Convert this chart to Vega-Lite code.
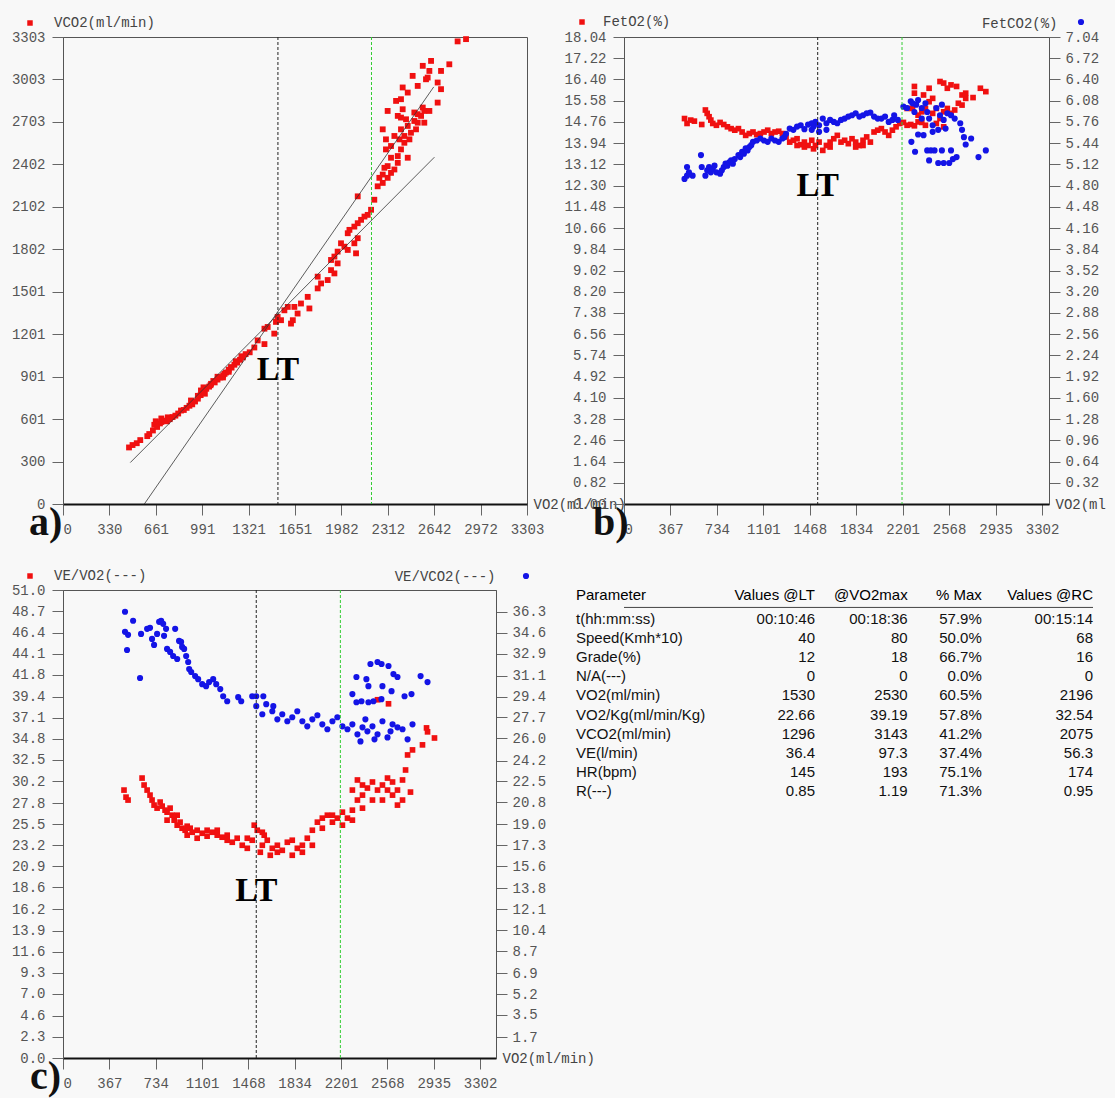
{
"$schema": "https://vega.github.io/schema/vega-lite/v6.json",
"background": "#f8f8f8",
"padding": {"left": 10, "top": 14, "right": 0, "bottom": 0},
"columns": 2,
"align": "none",
"bounds": "flush",
"spacing": {"row": 86, "column": 97},
"datasets": {
"thr": [{"kind": "LT", "vo2": 1530}, {"kind": "RC", "vo2": 2196}],
"afit": [{"line": "s", "vo2": 479, "val": 293}, {"line": "s", "vo2": 2644, "val": 2453}, {"line": "t", "vo2": 579, "val": 0}, {"line": "t", "vo2": 2639, "val": 2950}],
"a": [
{"vo2":470,"val":400},{"vo2":495,"val":417},{"vo2":525,"val":430},{"vo2":550,"val":452},{"vo2":600,"val":480},{"vo2":614,"val":495},{"vo2":640,"val":520},{"vo2":650,"val":560},{"vo2":660,"val":585},{"vo2":670,"val":545},{"vo2":690,"val":570},{"vo2":700,"val":580},{"vo2":700,"val":605},{"vo2":720,"val":590},{"vo2":746,"val":613},{"vo2":740,"val":585},{"vo2":760,"val":600},{"vo2":780,"val":615},{"vo2":800,"val":625},{"vo2":820,"val":640},{"vo2":840,"val":661},{"vo2":860,"val":665},{"vo2":880,"val":680},{"vo2":900,"val":695},{"vo2":911,"val":732},{"vo2":920,"val":705},{"vo2":940,"val":725},{"vo2":960,"val":745},{"vo2":960,"val":765},{"vo2":982,"val":803},{"vo2":980,"val":770},{"vo2":990,"val":790},{"vo2":1000,"val":800},{"vo2":1000,"val":825},{"vo2":1010,"val":780},{"vo2":1020,"val":815},{"vo2":1040,"val":830},{"vo2":1054,"val":850},{"vo2":1050,"val":840},{"vo2":1070,"val":870},{"vo2":1080,"val":860},{"vo2":1100,"val":880},{"vo2":1100,"val":900},{"vo2":1120,"val":895},{"vo2":1139,"val":895},{"vo2":1140,"val":910},{"vo2":1150,"val":920},{"vo2":1160,"val":930},{"vo2":1180,"val":935},{"vo2":1180,"val":950},{"vo2":1196,"val":968},{"vo2":1200,"val":965},{"vo2":1220,"val":985},{"vo2":1230,"val":1010},{"vo2":1240,"val":1000},{"vo2":1260,"val":1020},{"vo2":1270,"val":1045},{"vo2":1281,"val":1037},{"vo2":1300,"val":1060},{"vo2":1329,"val":1073},
{"vo2":1362,"val":1107},{"vo2":1386,"val":1157},{"vo2":1434,"val":1131},{"vo2":1434,"val":1240},{"vo2":1457,"val":1252},{"vo2":1504,"val":1205},{"vo2":1516,"val":1288},{"vo2":1528,"val":1323},{"vo2":1552,"val":1300},{"vo2":1576,"val":1370},{"vo2":1600,"val":1394},{"vo2":1623,"val":1276},{"vo2":1636,"val":1300},{"vo2":1647,"val":1394},{"vo2":1670,"val":1347},{"vo2":1694,"val":1418},{"vo2":1742,"val":1465},{"vo2":1754,"val":1383},
{"vo2":1813,"val":1525},{"vo2":1813,"val":1608},{"vo2":1837,"val":1560},{"vo2":1884,"val":1584},{"vo2":1908,"val":1654},{"vo2":1908,"val":1726},{"vo2":1932,"val":1631},{"vo2":1932,"val":1750},{"vo2":1955,"val":1702},{"vo2":1955,"val":1785},{"vo2":1979,"val":1844},{"vo2":2003,"val":1820},{"vo2":2027,"val":1797},{"vo2":2027,"val":1915},{"vo2":2039,"val":1939},{"vo2":2074,"val":1844},{"vo2":2074,"val":1962},{"vo2":2086,"val":1773},{"vo2":2098,"val":1880},{"vo2":2098,"val":1986},{"vo2":2098,"val":2176},{"vo2":2122,"val":2010},{"vo2":2146,"val":2033},{"vo2":2169,"val":2045},
{"vo2":2193,"val":2081},{"vo2":2216,"val":2152},{"vo2":2240,"val":2247},{"vo2":2252,"val":2307},{"vo2":2276,"val":2271},{"vo2":2276,"val":2330},{"vo2":2276,"val":2650},{"vo2":2288,"val":2378},{"vo2":2299,"val":2508},{"vo2":2299,"val":2579},{"vo2":2311,"val":2307},{"vo2":2311,"val":2390},{"vo2":2311,"val":2780},{"vo2":2335,"val":2342},{"vo2":2335,"val":2449},{"vo2":2335,"val":2532},{"vo2":2359,"val":2366},{"vo2":2359,"val":2603},{"vo2":2371,"val":2851},{"vo2":2383,"val":2413},{"vo2":2383,"val":2461},{"vo2":2383,"val":2745},{"vo2":2395,"val":2579},{"vo2":2406,"val":2508},{"vo2":2406,"val":2650},{"vo2":2406,"val":2733},{"vo2":2406,"val":2863},{"vo2":2418,"val":2792},{"vo2":2418,"val":2946},{"vo2":2430,"val":2555},{"vo2":2430,"val":2603},{"vo2":2442,"val":2721},{"vo2":2454,"val":2449},{"vo2":2454,"val":2674},{"vo2":2454,"val":2910},{"vo2":2466,"val":2579},{"vo2":2477,"val":2626},{"vo2":2489,"val":3028},{"vo2":2501,"val":2709},{"vo2":2501,"val":2769},{"vo2":2513,"val":2650},{"vo2":2525,"val":2697},{"vo2":2525,"val":2757},{"vo2":2525,"val":2957},{"vo2":2549,"val":2745},{"vo2":2561,"val":2804},{"vo2":2561,"val":3099},{"vo2":2572,"val":2697},{"vo2":2572,"val":2780},{"vo2":2584,"val":3004},{"vo2":2596,"val":3016},{"vo2":2608,"val":2780},{"vo2":2608,"val":3063},{"vo2":2620,"val":3134},{"vo2":2667,"val":2839},{"vo2":2667,"val":2981},{"vo2":2691,"val":2934},{"vo2":2691,"val":3063},{"vo2":2750,"val":3110},{"vo2":2809,"val":3272},{"vo2":2869,"val":3288}
],
"bo2": [
{"vo2":478,"val":14.89},{"vo2":498,"val":14.70},{"vo2":527,"val":14.83},{"vo2":556,"val":14.79},{"vo2":614,"val":14.66},{"vo2":643,"val":15.22},{"vo2":657,"val":15.09},{"vo2":672,"val":14.96},{"vo2":686,"val":14.83},{"vo2":701,"val":14.70},{"vo2":730,"val":14.63},{"vo2":759,"val":14.74},{"vo2":788,"val":14.66},{"vo2":817,"val":14.57},{"vo2":846,"val":14.50},{"vo2":875,"val":14.44},{"vo2":904,"val":14.50},{"vo2":933,"val":14.37},{"vo2":961,"val":14.24},{"vo2":990,"val":14.31},{"vo2":1019,"val":14.37},{"vo2":1048,"val":14.27},{"vo2":1077,"val":14.31},{"vo2":1106,"val":14.37},{"vo2":1135,"val":14.44},{"vo2":1164,"val":14.31},{"vo2":1193,"val":14.37},{"vo2":1222,"val":14.40},{"vo2":1251,"val":14.31},{"vo2":1280,"val":14.18},{"vo2":1309,"val":13.98},{"vo2":1338,"val":14.05},{"vo2":1367,"val":13.85},{"vo2":1396,"val":13.88},{"vo2":1425,"val":13.79},{"vo2":1454,"val":13.85},{"vo2":1497,"val":13.72},{"vo2":1541,"val":13.98},{"vo2":1570,"val":13.66},{"vo2":1599,"val":13.85},{"vo2":1628,"val":13.98},{"vo2":1657,"val":14.11},{"vo2":1685,"val":14.24},{"vo2":1714,"val":13.98},{"vo2":1743,"val":14.05},{"vo2":1772,"val":13.92},{"vo2":1801,"val":14.11},{"vo2":1830,"val":13.98},{"vo2":1859,"val":13.85},{"vo2":1888,"val":14.05},{"vo2":1917,"val":14.18},{"vo2":1946,"val":13.98},{"vo2":1975,"val":14.37},{"vo2":2004,"val":14.44},{"vo2":2033,"val":14.50},{"vo2":2062,"val":14.37},{"vo2":2091,"val":14.24},{"vo2":2120,"val":14.44},{"vo2":2149,"val":14.57},{"vo2":2178,"val":14.70},{"vo2":2207,"val":14.74},{"vo2":2236,"val":14.63},{"vo2":2265,"val":14.66},{"vo2":2294,"val":14.61},{"vo2":2323,"val":14.76},{"vo2":2352,"val":15.15},{"vo2":2381,"val":15.28},{"vo2":2410,"val":15.54},{"vo2":2438,"val":15.09},{"vo2":2467,"val":15.28},{"vo2":2496,"val":14.89},{"vo2":2525,"val":15.15},{"vo2":2554,"val":15.28},{"vo2":2583,"val":15.09},{"vo2":2612,"val":15.22},{"vo2":2641,"val":15.48},{"vo2":2670,"val":15.41},{"vo2":2699,"val":15.67},{"vo2":2670,"val":15.80},{"vo2":2279,"val":15.28},{"vo2":2294,"val":16.13},{"vo2":2410,"val":16.06},{"vo2":2496,"val":16.32},{"vo2":2525,"val":16.26},{"vo2":2554,"val":16.06},{"vo2":2583,"val":16.19},{"vo2":2627,"val":16.13},{"vo2":2366,"val":15.80},{"vo2":2294,"val":15.87},{"vo2":2699,"val":15.87},{"vo2":2757,"val":15.70},{"vo2":2815,"val":16.06},{"vo2":2858,"val":15.93},{"vo2":2438,"val":15.67},{"vo2":2236,"val":15.28},{"vo2":2323,"val":15.02},{"vo2":2467,"val":14.70},{"vo2":2352,"val":14.74},{"vo2":2381,"val":14.63},{"vo2":2525,"val":14.57},{"vo2":1367,"val":14.11},{"vo2":1425,"val":13.98},{"vo2":1512,"val":13.85},{"vo2":1628,"val":13.79},{"vo2":1830,"val":13.79},{"vo2":1888,"val":13.85},{"vo2":1483,"val":14.05}
],
"bco2": [
{"vo2":478,"val":4.90},{"vo2":498,"val":4.95},{"vo2":513,"val":5.00},{"vo2":542,"val":4.95},{"vo2":498,"val":5.08},{"vo2":608,"val":5.26},{"vo2":614,"val":5.08},{"vo2":643,"val":4.95},{"vo2":657,"val":5.03},{"vo2":672,"val":5.08},{"vo2":686,"val":5.00},{"vo2":701,"val":5.05},{"vo2":715,"val":5.10},{"vo2":730,"val":5.00},{"vo2":759,"val":4.98},{"vo2":773,"val":5.03},{"vo2":788,"val":5.08},{"vo2":802,"val":5.13},{"vo2":817,"val":5.10},{"vo2":831,"val":5.15},{"vo2":846,"val":5.18},{"vo2":860,"val":5.13},{"vo2":875,"val":5.20},{"vo2":904,"val":5.26},{"vo2":918,"val":5.23},{"vo2":933,"val":5.31},{"vo2":947,"val":5.28},{"vo2":961,"val":5.36},{"vo2":976,"val":5.33},{"vo2":990,"val":5.38},{"vo2":1005,"val":5.41},{"vo2":1019,"val":5.46},{"vo2":1048,"val":5.48},{"vo2":1077,"val":5.51},{"vo2":1106,"val":5.48},{"vo2":1135,"val":5.46},{"vo2":1164,"val":5.51},{"vo2":1193,"val":5.48},{"vo2":1222,"val":5.46},{"vo2":1251,"val":5.51},{"vo2":1266,"val":5.53},{"vo2":1280,"val":5.58},{"vo2":1309,"val":5.66},{"vo2":1338,"val":5.64},{"vo2":1367,"val":5.69},{"vo2":1396,"val":5.71},{"vo2":1425,"val":5.65},{"vo2":1454,"val":5.72},{"vo2":1483,"val":5.64},{"vo2":1512,"val":5.76},{"vo2":1541,"val":5.71},{"vo2":1570,"val":5.81},{"vo2":1599,"val":5.74},{"vo2":1628,"val":5.79},{"vo2":1657,"val":5.76},{"vo2":1685,"val":5.74},{"vo2":1714,"val":5.79},{"vo2":1743,"val":5.81},{"vo2":1772,"val":5.84},{"vo2":1801,"val":5.86},{"vo2":1830,"val":5.89},{"vo2":1859,"val":5.84},{"vo2":1888,"val":5.86},{"vo2":1917,"val":5.89},{"vo2":1946,"val":5.90},{"vo2":1975,"val":5.84},{"vo2":2004,"val":5.81},{"vo2":2033,"val":5.81},{"vo2":2062,"val":5.84},{"vo2":2091,"val":5.76},{"vo2":2120,"val":5.79},{"vo2":2134,"val":5.86},{"vo2":2163,"val":5.79},{"vo2":2207,"val":5.99},{"vo2":2236,"val":5.97},{"vo2":2265,"val":6.07},{"vo2":2279,"val":6.04},{"vo2":2294,"val":5.91},{"vo2":2308,"val":6.02},{"vo2":2323,"val":6.09},{"vo2":2352,"val":5.97},{"vo2":2381,"val":6.04},{"vo2":2395,"val":5.91},{"vo2":2410,"val":5.81},{"vo2":2438,"val":5.71},{"vo2":2467,"val":5.97},{"vo2":2496,"val":5.86},{"vo2":2511,"val":6.02},{"vo2":2525,"val":5.79},{"vo2":2540,"val":5.66},{"vo2":2554,"val":5.89},{"vo2":2583,"val":5.86},{"vo2":2612,"val":5.81},{"vo2":2656,"val":5.74},{"vo2":2670,"val":5.64},{"vo2":2685,"val":5.53},{"vo2":2699,"val":5.42},{"vo2":2742,"val":5.51},{"vo2":2270,"val":5.46},{"vo2":2299,"val":5.31},{"vo2":2323,"val":5.57},{"vo2":2366,"val":5.56},{"vo2":2395,"val":5.33},{"vo2":2424,"val":5.33},{"vo2":2453,"val":5.33},{"vo2":2410,"val":5.18},{"vo2":2482,"val":5.14},{"vo2":2525,"val":5.14},{"vo2":2511,"val":5.33},{"vo2":2569,"val":5.14},{"vo2":2583,"val":5.33},{"vo2":2598,"val":5.20},{"vo2":2627,"val":5.23},{"vo2":2800,"val":5.23},{"vo2":2858,"val":5.33},{"vo2":2352,"val":5.81},{"vo2":2438,"val":5.61},{"vo2":2482,"val":5.64},{"vo2":1483,"val":5.74},{"vo2":1541,"val":5.61},{"vo2":1599,"val":5.64},{"vo2":1497,"val":5.69}
],
"cvo2": [
{"vo2":483,"val":29.22},{"vo2":499,"val":28.45},{"vo2":515,"val":28.13},{"vo2":626,"val":30.53},{"vo2":642,"val":29.77},{"vo2":666,"val":29.22},{"vo2":689,"val":28.67},{"vo2":705,"val":28.13},{"vo2":721,"val":27.58},{"vo2":745,"val":27.25},{"vo2":769,"val":27.91},{"vo2":785,"val":27.47},{"vo2":808,"val":27.03},{"vo2":824,"val":26.81},{"vo2":848,"val":27.25},{"vo2":864,"val":26.48},{"vo2":880,"val":25.94},{"vo2":904,"val":25.39},{"vo2":927,"val":25.72},{"vo2":943,"val":25.06},{"vo2":967,"val":24.84},{"vo2":983,"val":25.28},{"vo2":1007,"val":25.06},{"vo2":1023,"val":24.62},{"vo2":1062,"val":24.84},{"vo2":1102,"val":24.51},{"vo2":1141,"val":24.84},{"vo2":1181,"val":24.62},{"vo2":1221,"val":24.30},{"vo2":1260,"val":24.08},{"vo2":1300,"val":23.75},{"vo2":1340,"val":23.53},{"vo2":1379,"val":23.97},{"vo2":1419,"val":23.20},{"vo2":1459,"val":22.87},{"vo2":1498,"val":23.75},{"vo2":1514,"val":25.39},{"vo2":1538,"val":24.84},{"vo2":1562,"val":22.44},{"vo2":1578,"val":23.20},{"vo2":1593,"val":24.30},{"vo2":1617,"val":23.75},{"vo2":1641,"val":22.11},{"vo2":1657,"val":22.87},{"vo2":1697,"val":23.20},{"vo2":1736,"val":22.65},{"vo2":1776,"val":23.53},{"vo2":1815,"val":22.11},{"vo2":1855,"val":22.87},{"vo2":1895,"val":23.20},{"vo2":1934,"val":23.97},{"vo2":1974,"val":24.84},{"vo2":2014,"val":25.72},{"vo2":2053,"val":26.16},{"vo2":2093,"val":26.48},{"vo2":2133,"val":25.72},{"vo2":2172,"val":26.16},{"vo2":2212,"val":25.39},{"vo2":2252,"val":26.16},{"vo2":2291,"val":27.03},{"vo2":2331,"val":28.13},{"vo2":2371,"val":28.67},{"vo2":2410,"val":29.44},{"vo2":2450,"val":30.10},{"vo2":2490,"val":29.22},{"vo2":2529,"val":29.77},{"vo2":2569,"val":30.53},{"vo2":2609,"val":30.10},{"vo2":2648,"val":29.22},{"vo2":2688,"val":30.32},{"vo2":2712,"val":31.41},{"vo2":2728,"val":33.05},{"vo2":2291,"val":29.22},{"vo2":2331,"val":30.32},{"vo2":2371,"val":27.25},{"vo2":2450,"val":28.13},{"vo2":2529,"val":28.13},{"vo2":2609,"val":28.67},{"vo2":2648,"val":27.58},{"vo2":2767,"val":33.60},{"vo2":2846,"val":34.15},{"vo2":2886,"val":35.57},{"vo2":2751,"val":29.00},{"vo2":2688,"val":28.13},{"vo2":824,"val":25.94},{"vo2":904,"val":26.48},{"vo2":983,"val":24.30},{"vo2":1062,"val":23.97},{"vo2":1141,"val":24.19},{"vo2":1221,"val":24.84},{"vo2":1300,"val":24.30},{"vo2":1459,"val":23.97},{"vo2":1578,"val":24.62},{"vo2":1697,"val":22.44},{"vo2":1815,"val":23.75},{"vo2":1895,"val":22.44},{"vo2":1974,"val":23.20},{"vo2":2053,"val":25.06},{"vo2":2133,"val":26.48},{"vo2":2212,"val":26.81},{"vo2":2291,"val":25.94},{"vo2":2371,"val":29.77},{"vo2":2569,"val":29.22},{"vo2":2490,"val":39.07},{"vo2":2577,"val":38.63},{"vo2":2878,"val":36.0},{"vo2":2941,"val":34.9}
],
"cvco2": [
{"vo2":491,"val":36.30},{"vo2":555,"val":35.57},{"vo2":491,"val":34.67},{"vo2":515,"val":34.42},{"vo2":507,"val":33.19},{"vo2":610,"val":30.91},{"vo2":618,"val":34.50},{"vo2":666,"val":34.91},{"vo2":689,"val":34.99},{"vo2":705,"val":34.09},{"vo2":721,"val":33.60},{"vo2":745,"val":34.50},{"vo2":761,"val":35.48},{"vo2":777,"val":35.57},{"vo2":793,"val":35.32},{"vo2":800,"val":34.34},{"vo2":816,"val":34.91},{"vo2":824,"val":33.28},{"vo2":848,"val":33.03},{"vo2":872,"val":32.70},{"vo2":888,"val":34.91},{"vo2":904,"val":32.46},{"vo2":919,"val":33.93},{"vo2":935,"val":33.85},{"vo2":943,"val":33.44},{"vo2":959,"val":33.28},{"vo2":975,"val":32.70},{"vo2":991,"val":32.21},{"vo2":999,"val":31.64},{"vo2":1015,"val":31.40},{"vo2":1046,"val":31.07},{"vo2":1070,"val":30.82},{"vo2":1102,"val":30.41},{"vo2":1133,"val":30.25},{"vo2":1157,"val":30.58},{"vo2":1189,"val":30.82},{"vo2":1213,"val":30.41},{"vo2":1245,"val":30.01},{"vo2":1268,"val":29.43},{"vo2":1300,"val":29.02},{"vo2":1387,"val":29.35},{"vo2":1411,"val":29.02},{"vo2":1498,"val":29.43},{"vo2":1530,"val":29.43},{"vo2":1586,"val":29.43},{"vo2":1530,"val":28.62},{"vo2":1609,"val":28.78},{"vo2":1665,"val":28.62},{"vo2":1736,"val":27.96},{"vo2":1815,"val":27.72},{"vo2":1895,"val":27.39},{"vo2":1974,"val":27.55},{"vo2":2053,"val":27.14},{"vo2":2133,"val":27.39},{"vo2":2212,"val":26.98},{"vo2":1776,"val":27.39},{"vo2":1855,"val":28.21},{"vo2":1934,"val":26.98},{"vo2":2014,"val":27.88},{"vo2":2093,"val":26.74},{"vo2":2172,"val":27.72},{"vo2":2252,"val":26.74},{"vo2":1657,"val":28.21},{"vo2":1578,"val":27.96},{"vo2":1697,"val":27.55},{"vo2":2291,"val":27.14},{"vo2":2331,"val":26.33},{"vo2":2371,"val":26.90},{"vo2":2410,"val":26.57},{"vo2":2450,"val":26.98},{"vo2":2490,"val":26.33},{"vo2":2529,"val":27.39},{"vo2":2569,"val":26.08},{"vo2":2609,"val":27.14},{"vo2":2648,"val":26.90},{"vo2":2688,"val":26.74},{"vo2":2728,"val":25.92},{"vo2":2767,"val":27.14},{"vo2":2355,"val":25.75},{"vo2":2466,"val":25.92},{"vo2":2593,"val":26.57},{"vo2":2394,"val":27.55},{"vo2":2291,"val":29.60},{"vo2":2323,"val":30.99},{"vo2":2402,"val":30.82},{"vo2":2434,"val":32.05},{"vo2":2490,"val":32.21},{"vo2":2522,"val":32.05},{"vo2":2577,"val":31.89},{"vo2":2616,"val":31.23},{"vo2":2648,"val":30.99},{"vo2":2418,"val":30.25},{"vo2":2529,"val":30.25},{"vo2":2601,"val":29.84},{"vo2":2704,"val":29.43},{"vo2":2759,"val":29.60},{"vo2":2831,"val":31.07},{"vo2":2886,"val":30.58},{"vo2":2323,"val":28.94},{"vo2":2363,"val":29.02},{"vo2":2418,"val":28.94},{"vo2":2458,"val":29.02},{"vo2":2521,"val":29.19}
],
"tbl": [
{"row":0,"param":"t(hh:mm:ss)","lt":"00:10:46","vmax":"00:18:36","pct":"57.9%","rc":"00:15:14"},
{"row":1,"param":"Speed(Kmh*10)","lt":"40","vmax":"80","pct":"50.0%","rc":"68"},
{"row":2,"param":"Grade(%)","lt":"12","vmax":"18","pct":"66.7%","rc":"16"},
{"row":3,"param":"N/A(---)","lt":"0","vmax":"0","pct":"0.0%","rc":"0"},
{"row":4,"param":"VO2(ml/min)","lt":"1530","vmax":"2530","pct":"60.5%","rc":"2196"},
{"row":5,"param":"VO2/Kg(ml/min/Kg)","lt":"22.66","vmax":"39.19","pct":"57.8%","rc":"32.54"},
{"row":6,"param":"VCO2(ml/min)","lt":"1296","vmax":"3143","pct":"41.2%","rc":"2075"},
{"row":7,"param":"VE(l/min)","lt":"36.4","vmax":"97.3","pct":"37.4%","rc":"56.3"},
{"row":8,"param":"HR(bpm)","lt":"145","vmax":"193","pct":"75.1%","rc":"174"},
{"row":9,"param":"R(---)","lt":"0.85","vmax":"1.19","pct":"71.3%","rc":"0.95"}
],
"hdr": [{"col":"param","label":"Parameter"},{"col":"lt","label":"Values @LT"},{"col":"vmax","label":"@VO2max"},{"col":"pct","label":"% Max"},{"col":"rc","label":"Values @RC"}]
},
"concat": [
{
"width": 464, "height": 467,
"title": {"text": "a)", "orient": "bottom", "anchor": "start", "frame": "group", "font": "Liberation Serif", "fontSize": 40, "fontWeight": "bold", "color": "#111", "dx": -34, "dy": -33, "offset": 0, "baseline": "top"},
"layer": [
{"data": {"name": "a"}, "mark": {"type": "point", "shape": "square", "filled": true, "size": 34, "opacity": 1},
 "encoding": {
  "x": {"field": "vo2", "type": "quantitative", "scale": {"domain": [0, 3303], "nice": false},
   "axis": {"values": [0,330,661,991,1321,1651,1982,2312,2642,2972,3303], "format": "d", "labelExpr": "datum.value === 0 ? ' 0' : datum.label", "labelAlign": {"condition": {"test": "datum.value === 0", "value": "left"}, "value": "center"}, "title": "VO2(ml/min)", "titleX": 470, "titleY": 0, "titleAlign": "left", "titleBaseline": "middle", "titleAngle": 0}},
  "y": {"field": "val", "type": "quantitative", "scale": {"domain": [0, 3303], "nice": false},
   "axis": {"values": [0,150,300,450,601,751,901,1051,1201,1351,1501,1652,1802,1952,2102,2252,2402,2552,2703,2853,3003,3153,3303], "format": "d", "title": null}},
  "color": {"datum": "VCO2(ml/min)", "type": "nominal", "scale": {"range": ["#f01010"]},
   "legend": {"orient": "none", "legendX": -40, "legendY": -21, "title": null, "symbolType": "square", "symbolSize": 30, "labelOffset": 17}}
 }},
{"data": {"name": "afit"}, "mark": {"type": "line", "color": "#333", "strokeWidth": 0.8},
 "encoding": {"x": {"field": "vo2", "type": "quantitative"}, "y": {"field": "val", "type": "quantitative"}, "detail": {"field": "line"}}},
{"data": {"name": "thr"}, "transform": [{"filter": "datum.kind == 'LT'"}], "mark": {"type": "rule", "color": "#222", "strokeDash": [3, 2], "strokeWidth": 1}, "encoding": {"x": {"field": "vo2", "type": "quantitative"}}},
{"data": {"name": "thr"}, "transform": [{"filter": "datum.kind == 'RC'"}], "mark": {"type": "rule", "color": "#33cc33", "strokeDash": [3, 2], "strokeWidth": 1}, "encoding": {"x": {"field": "vo2", "type": "quantitative"}}},
{"data": {"name": "thr"}, "transform": [{"filter": "datum.kind == 'LT'"}], "mark": {"type": "text", "font": "Liberation Serif", "fontWeight": "bold", "fontSize": 34, "color": "#000", "align": "center", "baseline": "middle"},
 "encoding": {"x": {"field": "vo2", "type": "quantitative"}, "y": {"datum": 945, "type": "quantitative"}, "text": {"field": "kind"}}}
]
},
{
"width": 425, "height": 467,
"title": {"text": "b)", "orient": "bottom", "anchor": "start", "frame": "group", "font": "Liberation Serif", "fontSize": 40, "fontWeight": "bold", "color": "#111", "dx": -31, "dy": -33, "offset": 0, "baseline": "top"},
"resolve": {"scale": {"y": "independent", "color": "independent"}, "legend": {"color": "independent"}},
"layer": [
{"data": {"name": "bo2"}, "mark": {"type": "point", "shape": "square", "filled": true, "size": 32, "opacity": 1},
 "encoding": {
  "x": {"field": "vo2", "type": "quantitative", "scale": {"domain": [0, 3357], "nice": false},
   "axis": {"values": [0,367,734,1101,1468,1834,2201,2568,2935,3302], "format": "d", "labelExpr": "datum.value === 0 ? ' 0' : datum.label", "labelAlign": {"condition": {"test": "datum.value === 0", "value": "left"}, "value": "center"}, "title": "VO2(ml", "titleX": 431, "titleY": 0, "titleAlign": "left", "titleBaseline": "middle", "titleAngle": 0}},
  "y": {"field": "val", "type": "quantitative", "scale": {"domain": [0, 18.04], "nice": false},
   "axis": {"orient": "left", "values": [0,0.82,1.64,2.46,3.28,4.1,4.92,5.74,6.56,7.38,8.2,9.02,9.84,10.66,11.48,12.3,13.12,13.94,14.76,15.58,16.4,17.22,18.04], "format": ".2f", "title": null}},
  "color": {"datum": "FetO2(%)", "type": "nominal", "scale": {"range": ["#f01010"]},
   "legend": {"orient": "none", "legendX": -49, "legendY": -22, "title": null, "symbolType": "square", "symbolSize": 30, "labelOffset": 14}}
 }},
{"data": {"name": "bco2"}, "mark": {"type": "point", "shape": "circle", "filled": true, "size": 38, "opacity": 1},
 "encoding": {
  "x": {"field": "vo2", "type": "quantitative"},
  "y": {"field": "val", "type": "quantitative", "scale": {"domain": [0, 7.04], "nice": false},
   "axis": {"orient": "right", "values": [0.32,0.64,0.96,1.28,1.6,1.92,2.24,2.56,2.88,3.2,3.52,3.84,4.16,4.48,4.8,5.12,5.44,5.76,6.08,6.4,6.72,7.04], "format": ".2f", "title": "FetCO2(%)", "titleAngle": 0, "titleX": 8, "titleY": -14, "titleAlign": "right", "titleBaseline": "middle"}},
  "color": {"datum": "FetCO2(%)", "type": "nominal", "scale": {"range": ["#1414e6"]},
   "legend": {"orient": "none", "legendX": 450, "legendY": -22, "title": null, "symbolType": "circle", "symbolSize": 38, "labelExpr": "''"}}
 }},
{"data": {"name": "thr"}, "transform": [{"filter": "datum.kind == 'LT'"}], "mark": {"type": "rule", "color": "#222", "strokeDash": [3, 2], "strokeWidth": 1}, "encoding": {"x": {"field": "vo2", "type": "quantitative"}}},
{"data": {"name": "thr"}, "transform": [{"filter": "datum.kind == 'RC'"}], "mark": {"type": "rule", "color": "#33cc33", "strokeDash": [3, 2], "strokeWidth": 1}, "encoding": {"x": {"field": "vo2", "type": "quantitative"}}},
{"data": {"name": "thr"}, "transform": [{"filter": "datum.kind == 'LT'"}], "mark": {"type": "text", "font": "Liberation Serif", "fontWeight": "bold", "fontSize": 34, "color": "#000", "align": "center", "baseline": "middle"},
 "encoding": {"x": {"field": "vo2", "type": "quantitative"}, "y": {"datum": 12.3, "type": "quantitative", "scale": {"domain": [0, 18.04], "nice": false}, "axis": null}, "text": {"field": "kind"}}}
]
},
{
"width": 433, "height": 468,
"title": {"text": "c)", "orient": "bottom", "anchor": "start", "frame": "group", "font": "Liberation Serif", "fontSize": 40, "fontWeight": "bold", "color": "#111", "dx": -33, "dy": -33, "offset": 0, "baseline": "top"},
"resolve": {"scale": {"y": "independent", "color": "independent"}, "legend": {"color": "independent"}},
"layer": [
{"data": {"name": "cvo2"}, "mark": {"type": "point", "shape": "square", "filled": true, "size": 32, "opacity": 1},
 "encoding": {
  "x": {"field": "vo2", "type": "quantitative", "scale": {"domain": [0, 3428], "nice": false},
   "axis": {"values": [0,367,734,1101,1468,1834,2201,2568,2935,3302], "format": "d", "labelExpr": "datum.value === 0 ? ' 0' : datum.label", "labelAlign": {"condition": {"test": "datum.value === 0", "value": "left"}, "value": "center"}, "title": "VO2(ml/min)", "titleX": 439, "titleY": 0, "titleAlign": "left", "titleBaseline": "middle", "titleAngle": 0}},
  "y": {"field": "val", "type": "quantitative", "scale": {"domain": [0, 51.04], "nice": false},
   "axis": {"orient": "left", "values": [0,2.3,4.6,7.0,9.3,11.6,13.9,16.2,18.6,20.9,23.2,25.5,27.8,30.2,32.5,34.8,37.1,39.4,41.8,44.1,46.4,48.7,51.0], "format": ".1f", "title": null}},
  "color": {"datum": "VE/VO2(---)", "type": "nominal", "scale": {"range": ["#f01010"]},
   "legend": {"orient": "none", "legendX": -40, "legendY": -21, "title": null, "symbolType": "square", "symbolSize": 30, "labelOffset": 17}}
 }},
{"data": {"name": "cvco2"}, "mark": {"type": "point", "shape": "circle", "filled": true, "size": 38, "opacity": 1},
 "encoding": {
  "x": {"field": "vo2", "type": "quantitative"},
  "y": {"field": "val", "type": "quantitative", "scale": {"domain": [0, 38.07], "nice": false},
   "axis": {"orient": "right", "values": [1.7,3.5,5.2,6.9,8.7,10.4,12.1,13.8,15.6,17.3,19.0,20.8,22.5,24.2,26.0,27.7,29.4,31.1,32.9,34.6,36.3,38.1], "format": ".1f", "title": "VE/VCO2(---)", "titleAngle": 0, "titleX": -1, "titleY": -14, "titleAlign": "right", "titleBaseline": "middle"}},
  "color": {"datum": "VE/VCO2(---)", "type": "nominal", "scale": {"range": ["#1414e6"]},
   "legend": {"orient": "none", "legendX": 456, "legendY": -21, "title": null, "symbolType": "circle", "symbolSize": 38, "labelExpr": "''"}}
 }},
{"data": {"name": "thr"}, "transform": [{"filter": "datum.kind == 'LT'"}], "mark": {"type": "rule", "color": "#222", "strokeDash": [3, 2], "strokeWidth": 1}, "encoding": {"x": {"field": "vo2", "type": "quantitative"}}},
{"data": {"name": "thr"}, "transform": [{"filter": "datum.kind == 'RC'"}], "mark": {"type": "rule", "color": "#33cc33", "strokeDash": [3, 2], "strokeWidth": 1}, "encoding": {"x": {"field": "vo2", "type": "quantitative"}}},
{"data": {"name": "thr"}, "transform": [{"filter": "datum.kind == 'LT'"}], "mark": {"type": "text", "font": "Liberation Serif", "fontWeight": "bold", "fontSize": 34, "color": "#000", "align": "center", "baseline": "middle"},
 "encoding": {"x": {"field": "vo2", "type": "quantitative"}, "y": {"datum": 18.21, "type": "quantitative", "scale": {"domain": [0, 51.04], "nice": false}, "axis": null}, "text": {"field": "kind"}}}
]
},
{
"width": 517, "height": 210,
"view": {"stroke": null, "fill": null},
"layer": [
{"data": {"name": "tbl"}, "mark": {"type": "text", "align": "left", "baseline": "middle", "font": "Liberation Sans", "fontSize": 15, "color": "#111", "xOffset": -48},
 "encoding": {"x": {"value": 0}, "y": {"field": "row", "type": "quantitative", "scale": {"domain": [-1.25, 9], "range": [5, 201], "nice": false, "zero": false}, "axis": null}, "text": {"field": "param"}}},
{"data": {"name": "tbl"}, "transform": [{"fold": ["lt", "vmax", "pct", "rc"], "as": ["col", "val"]}], "mark": {"type": "text", "align": "right", "baseline": "middle", "font": "Liberation Sans", "fontSize": 15, "color": "#111"},
 "encoding": {"x": {"field": "col", "type": "nominal", "scale": {"type": "point", "domain": ["lt","g1","g2","g3","g4","vmax","g6","g7","g8","pct","g10","g11","g12","g13","g14","rc"], "range": [191, 469], "padding": 0}, "axis": null}, "y": {"field": "row", "type": "quantitative"}, "text": {"field": "val"}}},
{"data": {"name": "hdr"}, "transform": [{"filter": "datum.col == 'param'"}], "mark": {"type": "text", "align": "left", "baseline": "middle", "font": "Liberation Sans", "fontSize": 15, "color": "#000", "xOffset": -48},
 "encoding": {"x": {"value": 0}, "y": {"datum": -1.25, "type": "quantitative"}, "text": {"field": "label"}}},
{"data": {"name": "hdr"}, "transform": [{"filter": "datum.col != 'param'"}], "mark": {"type": "text", "align": "right", "baseline": "middle", "font": "Liberation Sans", "fontSize": 15, "color": "#000"},
 "encoding": {"x": {"field": "col", "type": "nominal"}, "y": {"datum": -1.25, "type": "quantitative"}, "text": {"field": "label"}}},
{"data": {"values": [{}]}, "mark": {"type": "rule", "color": "#444", "strokeWidth": 1, "xOffset": -48},
 "encoding": {"y": {"datum": -0.6, "type": "quantitative"}}}
]
}
],
"config": {
"view": {"stroke": "#555", "strokeWidth": 1, "fill": "#f8f8f8"},
"axis": {"grid": false, "labelFont": "Liberation Mono", "labelFontSize": 14, "labelColor": "#555", "labelFlush": false, "labelOverlap": false, "labelBound": false, "tickSize": 11, "tickColor": "#666", "tickWidth": 1, "domainColor": "#555", "titleFont": "Liberation Mono", "titleFontSize": 14, "titleFontWeight": "normal", "titleColor": "#444"},
"axisBottom": {"labelPadding": 7, "domainColor": "#111", "domainWidth": 2},
"axisLeft": {"labelPadding": 7},
"axisRight": {"labelPadding": 5},
"legend": {"labelFont": "Liberation Mono", "labelFontSize": 14, "labelColor": "#444", "padding": 0}
}
}
